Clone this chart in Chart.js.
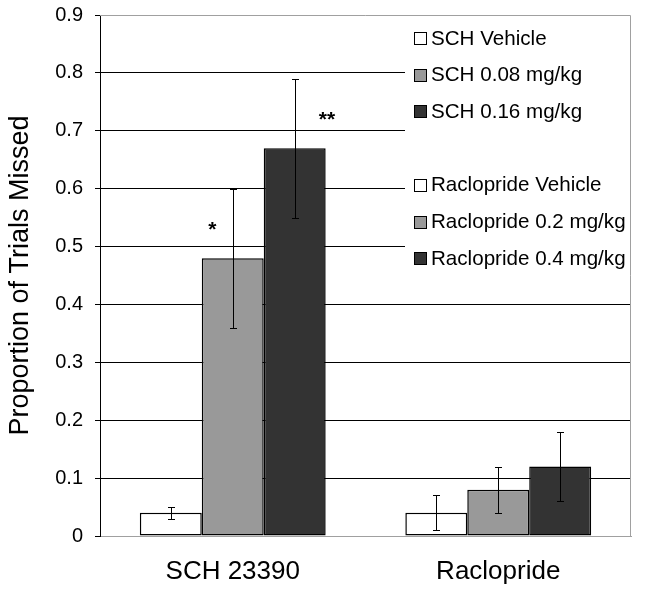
<!DOCTYPE html>
<html>
<head>
<meta charset="utf-8">
<script src="https://cdn.jsdelivr.net/npm/chart.js@4.4.0/dist/chart.umd.min.js"></script>
<style>
    html, body { margin: 0; padding: 0; background: #fff; }
    #wrap { width: 646px; height: 591px; }
</style>
</head>
<body>
<div id="wrap"><canvas id="myBarChart" width="646" height="591"></canvas></div>
<script>
// data
var categories = ['SCH 23390', 'Raclopride'];
var seriesNames = ['SCH Vehicle', 'SCH 0.08 mg/kg', 'SCH 0.16 mg/kg',
                   'Raclopride Vehicle', 'Raclopride 0.2 mg/kg', 'Raclopride 0.4 mg/kg'];
var means = [0.04, 0.48, 0.67, 0.04, 0.08, 0.12];
var errLow = [0.03, 0.36, 0.55, 0.01, 0.04, 0.06];
var errHigh = [0.05, 0.60, 0.79, 0.07, 0.12, 0.18];
var groupOf = [0, 0, 0, 1, 1, 1];
var sigMarks = ['', '*', '**', '', '', ''];
var sigValue = [null, 0.535, 0.725, null, null, null];
var yTicks = [0, 0.1, 0.2, 0.3, 0.4, 0.5, 0.6, 0.7, 0.8, 0.9];

var fills = ['#ffffff', '#999999', '#333333', '#ffffff', '#999999', '#333333'];
var sigShift = [0, -0.33, 0.52, 0, 0, 0]; // in bar widths
var FONT = "'Liberation Sans', Arial, sans-serif";

var datasets = seriesNames.map(function(name, i){
    var vals = categories.map(function(c, j){ return groupOf[i] === j ? means[i] : null; });
    return {
        label: name,
        data: vals,
        backgroundColor: fills[i],
        borderColor: '#000',
        borderWidth: 1.5,
        borderSkipped: false,
        categoryPercentage: 0.7,
        barPercentage: 1.0
    };
});

var extras = {
    id: 'extras',
    beforeDatasetsDraw: function(chart){
        var ctx = chart.ctx, a = chart.chartArea;
        ctx.save();
        ctx.strokeStyle = '#a0a0a0';
        ctx.lineWidth = 1;
        ctx.beginPath();
        ctx.moveTo(a.left, a.top + 0.5);
        ctx.lineTo(a.right - 0.5, a.top + 0.5);
        ctx.lineTo(a.right - 0.5, a.bottom);
        ctx.stroke();
        ctx.restore();
    },
    afterDatasetsDraw: function(chart){
        var ctx = chart.ctx, y = chart.scales.y;
        ctx.save();
        ctx.strokeStyle = '#000';
        ctx.lineWidth = 1;
        chart.data.datasets.forEach(function(ds, i){
            var bar = chart.getDatasetMeta(i).data[groupOf[i]];
            var x = Math.round(bar.x) + 0.5;
            var yh = Math.round(y.getPixelForValue(errHigh[i])) + 0.5;
            var yl = Math.round(y.getPixelForValue(errLow[i])) + 0.5;
            ctx.beginPath();
            ctx.moveTo(x, yh); ctx.lineTo(x, yl);
            ctx.moveTo(x - 3.5, yh); ctx.lineTo(x + 3.5, yh);
            ctx.moveTo(x - 3.5, yl); ctx.lineTo(x + 3.5, yl);
            ctx.stroke();
            if (sigMarks[i]) {
                ctx.fillStyle = '#000';
                ctx.font = 'bold 21px ' + FONT;
                ctx.textAlign = 'center';
                ctx.textBaseline = 'middle';
                ctx.fillText(sigMarks[i], bar.x + sigShift[i] * bar.width, y.getPixelForValue(sigValue[i]) + 4);
            }
        });
        ctx.restore();
    },
    afterDraw: function(chart){
        var ctx = chart.ctx, a = chart.chartArea;
        ctx.save();
        // legend panel
        ctx.fillStyle = '#fff';
        ctx.fillRect(405, a.top + 1, a.right - 406, 260);
        ctx.font = '20.6px ' + FONT;
        ctx.textAlign = 'left';
        ctx.textBaseline = 'middle';
        var rows = [0, 1, 2, 4, 5, 6];
        chart.data.datasets.forEach(function(ds, i){
            var cy = 38 + rows[i] * 36.7;
            ctx.fillStyle = ds.backgroundColor;
            ctx.fillRect(414, Math.round(cy - 6), 13, 13);
            ctx.strokeStyle = '#000';
            ctx.strokeRect(414.5, Math.round(cy - 6) + 0.5, 12, 12);
            ctx.fillStyle = '#000';
            ctx.fillText(ds.label, 431, cy + 1);
        });
        ctx.restore();
    }
};

var ctx = document.getElementById('myBarChart');
var myBarChart = new Chart(ctx, {
    type: 'bar',
    plugins: [extras],
    data: {
        labels: categories,
        datasets: datasets
    },
    options: {
        responsive: false,
        animation: false,
        skipNull: true,
        layout: { padding: { top: 15, right: 15, left: 0, bottom: 0 } },
        plugins: {
            legend: { display: false },
            tooltip: { enabled: false }
        },
        scales: {
            x: {
                afterFit: function(scale){ scale.height = 55; },
                grid: { display: false, drawTicks: false },
                border: { color: '#a0a0a0', width: 1 },
                ticks: { color: '#000', padding: 20, font: { family: FONT, size: 26 } }
            },
            y: {
                min: 0,
                max: 0.9,
                afterFit: function(scale){
                    scale.width = 100;
                    scale.paddingTop = 0;
                    scale.paddingBottom = 0;
                },
                afterBuildTicks: function(scale){
                    scale.ticks = yTicks.map(function(v){ return { value: v }; });
                },
                grid: {
                    color: function(c){
                        if (c.tick && (c.tick.value === 0 || c.tick.value === 0.9)) return 'rgba(0,0,0,0)';
                        return '#000';
                    },
                    tickColor: '#000',
                    tickLength: 5
                },
                border: { color: '#000', width: 1 },
                title: {
                    display: true,
                    text: 'Proportion of Trials Missed',
                    color: '#000',
                    font: { family: FONT, size: 27 },
                    padding: { top: 4, bottom: 0 }
                },
                ticks: {
                    color: '#000',
                    padding: 12,
                    font: { family: FONT, size: 20 },
                    callback: function(v){ return v === 0 ? '0' : v.toFixed(1); }
                }
            }
        }
    }
});
</script>
</body>
</html>
